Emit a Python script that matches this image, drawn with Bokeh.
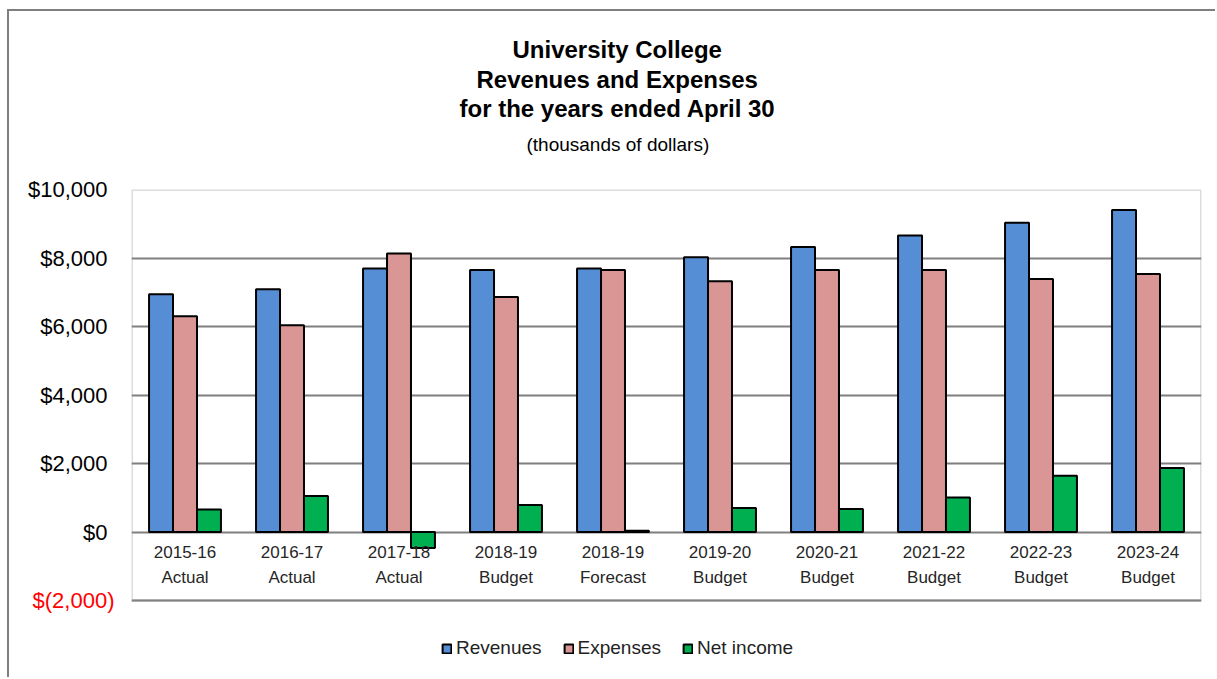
from bokeh.plotting import figure
from bokeh.models import (FactorRange, Range1d, FixedTicker, Legend, LegendItem, ColumnDataSource,
                          Title, LinearAxis, BoxAnnotation)
from bokeh.transform import dodge
from bokeh.core.properties import value
from bokeh.embed import file_html
from bokeh.resources import INLINE

years = ["2015-16", "2016-17", "2017-18", "2018-19", "2018-19", "2019-20", "2020-21", "2021-22", "2022-23", "2023-24"]
kinds = ["Actual", "Actual", "Actual", "Budget", "Forecast", "Budget", "Budget", "Budget", "Budget", "Budget"]
revenues = [6940, 7085, 7690, 7650, 7690, 8020, 8320, 8660, 9030, 9400]
expenses = [6300, 6035, 8135, 6860, 7650, 7320, 7650, 7650, 7390, 7535]
net_income = [660, 1050, -470, 790, 40, 700, 670, 1010, 1640, 1865]
y_ticks = [-2000, 0, 2000, 4000, 6000, 8000, 10000]
y_tick_labels = ["$(2,000)", "$0", "$2,000", "$4,000", "$6,000", "$8,000", "$10,000"]
title_lines = ["University College", "Revenues and Expenses", "for the years ended April 30"]
subtitle = "(thousands of dollars)"
series_names = ["Revenues", "Expenses", "Net income"]
series_colors = ["#558ED5", "#D99694", "#00B050"]

cats = [f"{y} {k}" for y, k in zip(years, kinds)]
src = ColumnDataSource(dict(cat=cats, rev=revenues, exp=expenses, net=net_income,
                            year=years, kind=kinds, zero=[0] * len(cats)))

PX = 2000 / 68.5  # data units per screen pixel
y_lo, y_hi = y_ticks[0], y_ticks[-1]

p = figure(x_range=FactorRange(*cats, range_padding=0),
           y_range=Range1d(y_lo - 79 * PX, y_hi),
           width=1208, height=668, output_backend="svg", toolbar_location=None,
           min_border_left=122, min_border_right=16, min_border_top=178, min_border_bottom=0)
p.styles = {"border-left": "2px solid #7f7f7f", "border-top": "2px solid #7f7f7f",
            "margin-left": "7px", "margin-top": "9px"}
p.background_fill_color = "white"
p.border_fill_color = "white"
p.outline_line_color = None

# plot-area box from -2000 to 10000
p.add_layout(BoxAnnotation(top=y_hi, bottom=y_lo, fill_alpha=0, line_color="#8c8c8c",
                           line_width=3, level="underlay"))

p.xaxis.visible = False
p.xgrid.visible = False
p.ygrid.ticker = FixedTicker(ticks=y_ticks)
p.ygrid.grid_line_color = "#7f7f7f"
p.ygrid.grid_line_width = 2

bw = 0.224
r1 = p.vbar(x=dodge("cat", -bw, range=p.x_range), top="rev", bottom=0, width=bw, source=src,
            fill_color=series_colors[0], line_color="black", line_width=2)
r2 = p.vbar(x=dodge("cat", 0, range=p.x_range), top="exp", bottom=0, width=bw, source=src,
            fill_color=series_colors[1], line_color="black", line_width=2)
r3 = p.vbar(x=dodge("cat", bw, range=p.x_range), top="net", bottom=0, width=bw, source=src,
            fill_color=series_colors[2], line_color="black", line_width=2)

# black tick labels (all but the negative one)
p.yaxis.ticker = FixedTicker(ticks=y_ticks[1:])
p.yaxis.major_label_overrides = {t: l for t, l in zip(y_ticks[1:], y_tick_labels[1:])}
for ax in p.yaxis:
    ax.axis_line_color = None
    ax.major_tick_line_color = None
    ax.minor_tick_line_color = None
    ax.major_tick_out = 0
    ax.major_tick_in = 0
    ax.major_label_standoff = 24
    ax.major_label_text_font = "Liberation Sans"
    ax.major_label_text_font_size = "22px"
    ax.major_label_text_color = "black"

# red negative tick label
red_axis = LinearAxis(ticker=FixedTicker(ticks=y_ticks[:1]),
                      major_label_overrides={y_ticks[0]: y_tick_labels[0]},
                      axis_line_color=None, major_tick_line_color=None, minor_tick_line_color=None,
                      major_tick_out=0, major_tick_in=0, major_label_standoff=-90,
                      major_label_text_font="Liberation Sans", major_label_text_font_size="22px",
                      major_label_text_color="#FF0000")
p.add_layout(red_axis, "left")

p.text(x="cat", y="zero", text="year", source=src, y_offset=20, text_align="center",
       text_baseline="middle", text_font=value("Liberation Sans"), text_font_size="17px",
       text_color="#262626")
p.text(x="cat", y="zero", text="kind", source=src, y_offset=45, text_align="center",
       text_baseline="middle", text_font=value("Liberation Sans"), text_font_size="17px",
       text_color="#262626")

# titles: added from the frame outward, left-aligned with offsets so they centre near x=617
p.add_layout(Title(text=" ", align="left", standoff=22, text_font_size="1px"), "above")
p.add_layout(Title(text=subtitle, align="left", offset=395, standoff=20,
                   text_font="Liberation Sans", text_font_size="19px",
                   text_font_style="normal", text_color="black"), "above")
for t, so, off in zip(reversed(title_lines), [0, 0, 2], [328, 345, 381]):
    p.add_layout(Title(text=t, align="left", offset=off, standoff=so,
                       text_font="Liberation Sans", text_font_size="24px",
                       text_font_style="bold", text_color="black"), "above")

legend = Legend(items=[LegendItem(label=n, renderers=[r]) for n, r in zip(series_names, [r1, r2, r3])],
                orientation="horizontal", location=(310, 20), border_line_color=None,
                background_fill_alpha=0, padding=0, margin=0, spacing=21,
                glyph_width=11, glyph_height=11, label_standoff=4,
                label_text_font="Liberation Sans", label_text_font_size="19px",
                label_text_color="#222222")
p.add_layout(legend)

open("out.html", "w").write(file_html(p, INLINE))
